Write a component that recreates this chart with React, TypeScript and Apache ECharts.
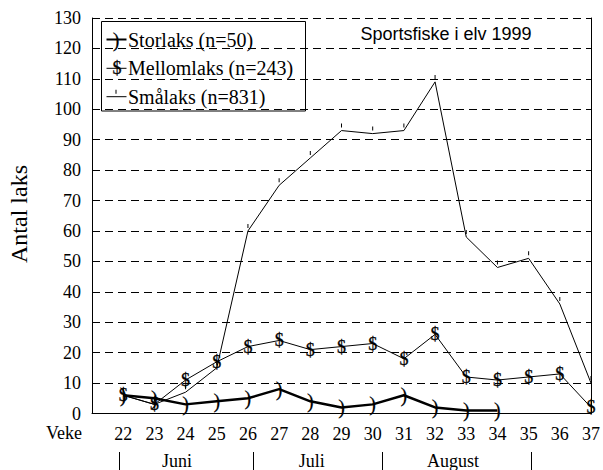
import React, { useEffect, useRef } from "react";
import * as echarts from "echarts";

const weeks = [22, 23, 24, 25, 26, 27, 28, 29, 30, 31, 32, 33, 34, 35, 36, 37];
const storlaks = [6, 5, 3, 4, 5, 8, 4, 2, 3, 6, 2, 1, 1];
const mellomlaks = [6, 3, 11, 17, 22, 24, 21, 22, 23, 18, 26, 12, 11, 12, 13, 2];
const smalaks = [6, 3, 7, 15, 60, 75, 84, 93, 92, 93, 109, 58, 48, 51, 36, 10];
const seriesNames = ["Storlaks (n=50)", "Mellomlaks (n=243)", "Smålaks (n=831)"];
const seriesGlyphs = [")", "$"];
const monthNames = ["Juni", "Juli", "August"];
const monthLabelWeeks = [23.72, 28.03, 32.55];
const monthBoundaryWeeks = [21.87, 26.16, 30.27, 35.05];
const chartTitle = "Sportsfiske i elv 1999";
const yTitle = "Antal laks";
const xTitle = "Veke";

const SERIF = "'Liberation Serif', 'Times New Roman', serif";
const SANS = "'Liberation Sans', Arial, sans-serif";

const G_LEFT = 92;
const G_RIGHT = 11;
const G_TOP = 18;
const G_BOTTOM = 56.5;
const W = 603;
const H = 470;
const X_MIN = 21;
const X_MAX = 37;

const wx = (w: number) => G_LEFT + ((w - X_MIN) / (X_MAX - X_MIN)) * (W - G_LEFT - G_RIGHT);

const glyphStyle = (t: string) =>
  t === "$"
    ? { text: t, font: `18px ${SERIF}`, fill: "#000", stroke: "#000", lineWidth: 0.3, align: "center", verticalAlign: "middle" }
    : { text: t, font: `20px ${SERIF}`, fill: "#000", stroke: "#000", lineWidth: 0.2, align: "center", verticalAlign: "middle" };

export default function App() {
  const ref = useRef<HTMLDivElement>(null);
  useEffect(() => {
    if (!ref.current) return;
    const chart = echarts.init(ref.current, undefined, { renderer: "svg" });
    const pairs = (arr: number[]) => arr.map((v, i) => [weeks[i], v]);

    const legendRows = [39.5, 68.3, 96.7];
    const graphic: any[] = [
      {
        type: "group",
        z: 100,
        children: [
          {
            type: "rect",
            shape: { x: 101.5, y: 21.5, width: 204, height: 89.5 },
            style: { fill: "#fff", stroke: "#000", lineWidth: 1 },
          },
          { type: "line", shape: { x1: 106.5, y1: legendRows[0], x2: 126.5, y2: legendRows[0] }, style: { stroke: "#000", lineWidth: 2 } },
          { type: "text", x: 116, y: legendRows[0], style: glyphStyle(seriesGlyphs[0]) },
          { type: "line", shape: { x1: 106.5, y1: legendRows[1], x2: 126.5, y2: legendRows[1] }, style: { stroke: "#000", lineWidth: 1 } },
          { type: "text", x: 117, y: legendRows[1], style: glyphStyle(seriesGlyphs[1]) },
          { type: "line", shape: { x1: 106.5, y1: legendRows[2], x2: 126.5, y2: legendRows[2] }, style: { stroke: "#000", lineWidth: 1 } },
          { type: "rect", shape: { x: 115.5, y: legendRows[2] - 7, width: 1, height: 4 }, style: { fill: "#000" } },
          ...seriesNames.map((n, i) => ({
            type: "text",
            x: 128,
            y: legendRows[i],
            style: { text: n, font: `20px ${SERIF}`, fill: "#000", align: "left", verticalAlign: "middle" },
          })),
        ],
      },
      {
        type: "text",
        x: 360.5,
        y: 34,
        z: 100,
        style: { text: chartTitle, font: `18px ${SANS}`, fill: "#000", align: "left", verticalAlign: "middle" },
      },
      {
        type: "text",
        x: 19,
        y: 214,
        rotation: Math.PI / 2,
        style: { text: yTitle, font: `24px ${SERIF}`, fill: "#000", align: "center", verticalAlign: "middle" },
      },
      {
        type: "text",
        x: 82,
        y: 433,
        style: { text: xTitle, font: `18px ${SERIF}`, fill: "#000", align: "right", verticalAlign: "middle" },
      },
      ...monthBoundaryWeeks.map((w) => ({
        type: "line",
        shape: { x1: Math.round(wx(w)) + 0.5, y1: 452, x2: Math.round(wx(w)) + 0.5, y2: 470 },
        style: { stroke: "#000", lineWidth: 1 },
      })),
      ...monthNames.map((m, i) => ({
        type: "text",
        x: wx(monthLabelWeeks[i]),
        y: 461,
        style: { text: m, font: `18px ${SERIF}`, fill: "#000", align: "center", verticalAlign: "middle" },
      })),
    ];

    chart.setOption({
      animation: false,
      backgroundColor: "#fff",
      grid: { left: G_LEFT, right: G_RIGHT, top: G_TOP, bottom: G_BOTTOM },
      xAxis: {
        type: "value",
        min: X_MIN,
        max: X_MAX,
        interval: 1,
        axisLine: { show: true, lineStyle: { color: "#000", width: 1 } },
        axisTick: { show: false },
        splitLine: { show: false },
        axisLabel: {
          color: "#000",
          fontFamily: SERIF,
          fontSize: 18,
          margin: 11,
          formatter: (v: number) => (v === X_MIN ? "" : String(v)),
        },
      },
      yAxis: [
        {
          type: "value",
          min: 0,
          max: 130,
          interval: 10,
          axisLine: { show: true, lineStyle: { color: "#000", width: 1 } },
          axisTick: { show: false },
          splitLine: { show: true, lineStyle: { color: "#000", type: [8, 5], width: 1 } },
          axisLabel: { color: "#000", fontFamily: SERIF, fontSize: 18, margin: 11 },
        },
        {
          type: "value",
          position: "right",
          min: 0,
          max: 130,
          interval: 10,
          axisLine: { show: true, lineStyle: { color: "#000", width: 1 } },
          axisTick: { show: false },
          splitLine: { show: false },
          axisLabel: { show: false },
        },
      ],
      graphic,
      series: [
        {
          name: seriesNames[2],
          type: "line",
          data: pairs(smalaks),
          lineStyle: { color: "#000", width: 1 },
          symbol: "rect",
          symbolSize: [1, 4],
          symbolOffset: [0, -5],
          itemStyle: { color: "#000" },
          z: 3,
        },
        {
          name: seriesNames[1],
          type: "line",
          data: pairs(mellomlaks),
          lineStyle: { color: "#000", width: 1 },
          symbol: "none",
          z: 4,
        },
        {
          name: seriesNames[0],
          type: "line",
          data: pairs(storlaks),
          lineStyle: { color: "#000", width: 2.5 },
          symbol: "none",
          z: 5,
        },
      ],
    });

    // glyph markers placed through the chart's own coordinate system
    const markerGraphics: any[] = [];
    [storlaks, mellomlaks].forEach((arr, si) => {
      arr.forEach((v, i) => {
        const p = chart.convertToPixel({ gridIndex: 0 }, [weeks[i], v]) as number[];
        markerGraphics.push({ type: "text", x: p[0], y: p[1], z: 50, style: glyphStyle(seriesGlyphs[si]) });
      });
    });
    chart.setOption({ graphic: [...graphic, ...markerGraphics] });

    return () => chart.dispose();
  }, []);
  return (
    <div
      ref={ref}
      style={{ position: "fixed", left: 0, top: 0, width: W, height: H, background: "#fff" }}
    />
  );
}
